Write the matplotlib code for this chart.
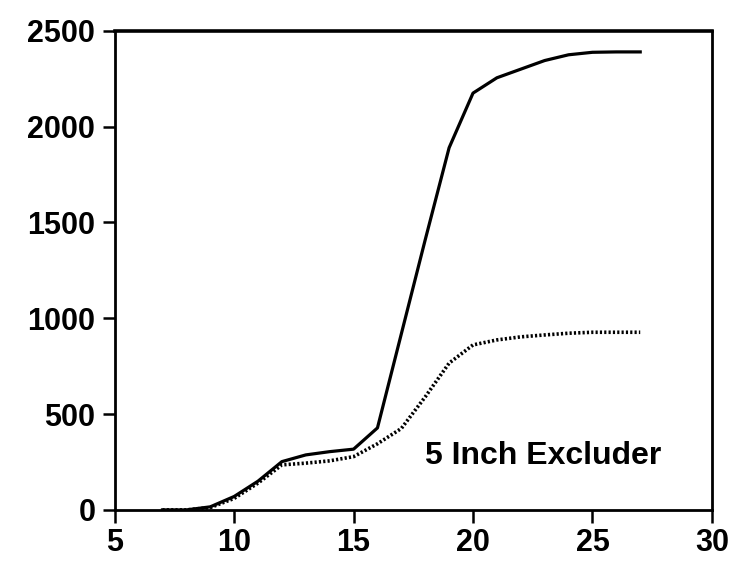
import matplotlib
matplotlib.use("Agg")
import matplotlib.pyplot as plt

# curva cheia e pontilhada
x_solid = [7, 8, 9, 10, 11, 12, 13, 14, 15, 16, 17, 18, 19, 20, 21, 22, 23, 24, 25, 26, 27]
y_solid = [0, 0, 16, 70, 150, 252, 287, 304, 317, 428, 919, 1410, 1890, 2175,
           2255, 2300, 2345, 2375, 2388, 2390, 2390]
x_dot = [7, 8, 9, 10, 11, 12, 13, 14, 15, 16, 17, 18, 19, 20, 21, 22, 23, 24, 25, 26, 27]
y_dot = [0, 0, 12, 60, 140, 235, 244, 256, 278, 345, 425, 590, 766, 861,
         887, 903, 913, 922, 927, 927, 927]

xticks = [5, 10, 15, 20, 25, 30]
yticks = [0, 500, 1000, 1500, 2000, 2500]
label = "5 Inch Excluder"

plt.rcParams["font.family"] = ["Liberation Sans", "DejaVu Sans"]

fig = plt.figure(figsize=(7.4, 5.71), dpi=100)
ax = fig.add_axes([0.155, 0.107, 0.807, 0.839])

ax.plot(x_solid, y_solid, color="black", lw=2.3)
ax.plot(x_dot, y_dot, color="black", lw=2.6, linestyle=(0, (0.6, 0.6)))

ax.set_xlim(5, 30)
ax.set_ylim(0, 2500)
ax.set_xticks(xticks)
ax.set_yticks(yticks)
ax.tick_params(axis="y", direction="out", length=9, width=1.8, pad=5,
               labelsize=22)
ax.tick_params(axis="x", direction="out", length=9, width=1.8, pad=4,
               labelsize=22)
for t in ax.get_xticklabels() + ax.get_yticklabels():
    t.set_fontweight("bold")
for s in ax.spines.values():
    s.set_linewidth(2.0)
ax.spines["top"].set_linewidth(2.6)

ax.text(22.93, 240, label, ha="center", va="baseline", fontsize=23,
        fontweight="bold")

fig.savefig("out.png", dpi=100)
